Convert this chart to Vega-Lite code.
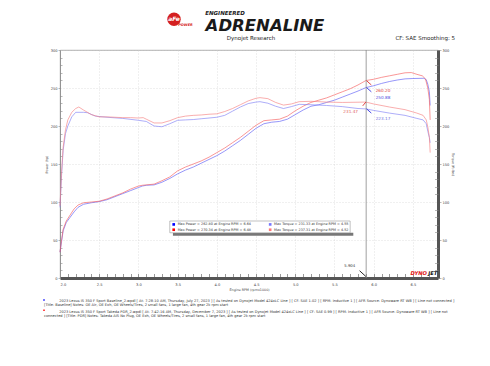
{
  "$schema": "https://vega.github.io/schema/vega-lite/v6.json",
  "width": 378,
  "height": 228,
  "autosize": {"type": "none"},
  "padding": {"left": 60, "top": 50, "right": 52, "bottom": 88},
  "background": "white",
  "config": {
    "view": {"stroke": "#999", "strokeWidth": 0.8},
    "axis": {"labelFont": "DejaVu Sans", "titleFont": "DejaVu Sans", "labelFontSize": 3.6, "titleFontSize": 3.3, "titleFontWeight": "normal", "labelColor": "#444", "titleColor": "#444"}
  },
  "datasets": {
    "one": [{}],
    "runs": [
      {"rpm": 2.00, "value": 34, "series": "Baseline Power"},
      {"rpm": 2.02, "value": 48, "series": "Baseline Power"},
      {"rpm": 2.04, "value": 62, "series": "Baseline Power"},
      {"rpm": 2.08, "value": 73, "series": "Baseline Power"},
      {"rpm": 2.13, "value": 80, "series": "Baseline Power"},
      {"rpm": 2.18, "value": 87, "series": "Baseline Power"},
      {"rpm": 2.23, "value": 93, "series": "Baseline Power"},
      {"rpm": 2.30, "value": 97, "series": "Baseline Power"},
      {"rpm": 2.40, "value": 99, "series": "Baseline Power"},
      {"rpm": 2.50, "value": 100.5, "series": "Baseline Power"},
      {"rpm": 2.60, "value": 103, "series": "Baseline Power"},
      {"rpm": 2.70, "value": 107, "series": "Baseline Power"},
      {"rpm": 2.80, "value": 111, "series": "Baseline Power"},
      {"rpm": 2.90, "value": 115, "series": "Baseline Power"},
      {"rpm": 3.00, "value": 119, "series": "Baseline Power"},
      {"rpm": 3.05, "value": 121, "series": "Baseline Power"},
      {"rpm": 3.10, "value": 122, "series": "Baseline Power"},
      {"rpm": 3.20, "value": 122.5, "series": "Baseline Power"},
      {"rpm": 3.30, "value": 126, "series": "Baseline Power"},
      {"rpm": 3.40, "value": 131, "series": "Baseline Power"},
      {"rpm": 3.50, "value": 137, "series": "Baseline Power"},
      {"rpm": 3.60, "value": 142, "series": "Baseline Power"},
      {"rpm": 3.70, "value": 146, "series": "Baseline Power"},
      {"rpm": 3.80, "value": 151, "series": "Baseline Power"},
      {"rpm": 3.90, "value": 156, "series": "Baseline Power"},
      {"rpm": 4.00, "value": 161, "series": "Baseline Power"},
      {"rpm": 4.10, "value": 167, "series": "Baseline Power"},
      {"rpm": 4.20, "value": 174, "series": "Baseline Power"},
      {"rpm": 4.30, "value": 181, "series": "Baseline Power"},
      {"rpm": 4.40, "value": 189, "series": "Baseline Power"},
      {"rpm": 4.50, "value": 197, "series": "Baseline Power"},
      {"rpm": 4.60, "value": 203, "series": "Baseline Power"},
      {"rpm": 4.70, "value": 205, "series": "Baseline Power"},
      {"rpm": 4.80, "value": 206, "series": "Baseline Power"},
      {"rpm": 4.90, "value": 209, "series": "Baseline Power"},
      {"rpm": 5.00, "value": 215, "series": "Baseline Power"},
      {"rpm": 5.10, "value": 221, "series": "Baseline Power"},
      {"rpm": 5.20, "value": 226, "series": "Baseline Power"},
      {"rpm": 5.30, "value": 228, "series": "Baseline Power"},
      {"rpm": 5.40, "value": 231, "series": "Baseline Power"},
      {"rpm": 5.50, "value": 234, "series": "Baseline Power"},
      {"rpm": 5.60, "value": 238, "series": "Baseline Power"},
      {"rpm": 5.70, "value": 242, "series": "Baseline Power"},
      {"rpm": 5.80, "value": 246, "series": "Baseline Power"},
      {"rpm": 5.90, "value": 250.5, "series": "Baseline Power"},
      {"rpm": 6.00, "value": 253, "series": "Baseline Power"},
      {"rpm": 6.10, "value": 256, "series": "Baseline Power"},
      {"rpm": 6.20, "value": 258.5, "series": "Baseline Power"},
      {"rpm": 6.30, "value": 260.5, "series": "Baseline Power"},
      {"rpm": 6.40, "value": 262, "series": "Baseline Power"},
      {"rpm": 6.50, "value": 262.5, "series": "Baseline Power"},
      {"rpm": 6.64, "value": 262.8, "series": "Baseline Power"},
      {"rpm": 6.67, "value": 261, "series": "Baseline Power"},
      {"rpm": 6.69, "value": 255, "series": "Baseline Power"},
      {"rpm": 6.71, "value": 245, "series": "Baseline Power"},
      {"rpm": 6.72, "value": 227, "series": "Baseline Power"},

      {"rpm": 2.00, "value": 34, "series": "PDR Power"},
      {"rpm": 2.02, "value": 50, "series": "PDR Power"},
      {"rpm": 2.04, "value": 64, "series": "PDR Power"},
      {"rpm": 2.08, "value": 75, "series": "PDR Power"},
      {"rpm": 2.13, "value": 83, "series": "PDR Power"},
      {"rpm": 2.18, "value": 91, "series": "PDR Power"},
      {"rpm": 2.23, "value": 96, "series": "PDR Power"},
      {"rpm": 2.30, "value": 99, "series": "PDR Power"},
      {"rpm": 2.40, "value": 100, "series": "PDR Power"},
      {"rpm": 2.50, "value": 101, "series": "PDR Power"},
      {"rpm": 2.60, "value": 104, "series": "PDR Power"},
      {"rpm": 2.70, "value": 108, "series": "PDR Power"},
      {"rpm": 2.80, "value": 112, "series": "PDR Power"},
      {"rpm": 2.90, "value": 117, "series": "PDR Power"},
      {"rpm": 3.00, "value": 121, "series": "PDR Power"},
      {"rpm": 3.05, "value": 122, "series": "PDR Power"},
      {"rpm": 3.10, "value": 122.5, "series": "PDR Power"},
      {"rpm": 3.20, "value": 123.5, "series": "PDR Power"},
      {"rpm": 3.30, "value": 128, "series": "PDR Power"},
      {"rpm": 3.40, "value": 133, "series": "PDR Power"},
      {"rpm": 3.50, "value": 141, "series": "PDR Power"},
      {"rpm": 3.60, "value": 146, "series": "PDR Power"},
      {"rpm": 3.70, "value": 150, "series": "PDR Power"},
      {"rpm": 3.80, "value": 154, "series": "PDR Power"},
      {"rpm": 3.90, "value": 159, "series": "PDR Power"},
      {"rpm": 4.00, "value": 165, "series": "PDR Power"},
      {"rpm": 4.10, "value": 171, "series": "PDR Power"},
      {"rpm": 4.20, "value": 178, "series": "PDR Power"},
      {"rpm": 4.30, "value": 185, "series": "PDR Power"},
      {"rpm": 4.40, "value": 193, "series": "PDR Power"},
      {"rpm": 4.50, "value": 201, "series": "PDR Power"},
      {"rpm": 4.60, "value": 207, "series": "PDR Power"},
      {"rpm": 4.70, "value": 208, "series": "PDR Power"},
      {"rpm": 4.80, "value": 209, "series": "PDR Power"},
      {"rpm": 4.90, "value": 213, "series": "PDR Power"},
      {"rpm": 5.00, "value": 220, "series": "PDR Power"},
      {"rpm": 5.10, "value": 226, "series": "PDR Power"},
      {"rpm": 5.20, "value": 231, "series": "PDR Power"},
      {"rpm": 5.30, "value": 234, "series": "PDR Power"},
      {"rpm": 5.40, "value": 237, "series": "PDR Power"},
      {"rpm": 5.50, "value": 241, "series": "PDR Power"},
      {"rpm": 5.60, "value": 245, "series": "PDR Power"},
      {"rpm": 5.70, "value": 249, "series": "PDR Power"},
      {"rpm": 5.80, "value": 254, "series": "PDR Power"},
      {"rpm": 5.90, "value": 259.8, "series": "PDR Power"},
      {"rpm": 6.00, "value": 261.5, "series": "PDR Power"},
      {"rpm": 6.10, "value": 264, "series": "PDR Power"},
      {"rpm": 6.20, "value": 266, "series": "PDR Power"},
      {"rpm": 6.30, "value": 268, "series": "PDR Power"},
      {"rpm": 6.40, "value": 270, "series": "PDR Power"},
      {"rpm": 6.48, "value": 270.3, "series": "PDR Power"},
      {"rpm": 6.55, "value": 268, "series": "PDR Power"},
      {"rpm": 6.62, "value": 266, "series": "PDR Power"},
      {"rpm": 6.66, "value": 262, "series": "PDR Power"},
      {"rpm": 6.69, "value": 250, "series": "PDR Power"},
      {"rpm": 6.71, "value": 235, "series": "PDR Power"},
      {"rpm": 6.72, "value": 208, "series": "PDR Power"},

      {"rpm": 2.00, "value": 93, "series": "Baseline Torque"},
      {"rpm": 2.02, "value": 135, "series": "Baseline Torque"},
      {"rpm": 2.04, "value": 168, "series": "Baseline Torque"},
      {"rpm": 2.07, "value": 190, "series": "Baseline Torque"},
      {"rpm": 2.10, "value": 200, "series": "Baseline Torque"},
      {"rpm": 2.15, "value": 212, "series": "Baseline Torque"},
      {"rpm": 2.20, "value": 218, "series": "Baseline Torque"},
      {"rpm": 2.30, "value": 218, "series": "Baseline Torque"},
      {"rpm": 2.35, "value": 217.5, "series": "Baseline Torque"},
      {"rpm": 2.45, "value": 213, "series": "Baseline Torque"},
      {"rpm": 2.60, "value": 211.5, "series": "Baseline Torque"},
      {"rpm": 2.80, "value": 210, "series": "Baseline Torque"},
      {"rpm": 3.00, "value": 207.5, "series": "Baseline Torque"},
      {"rpm": 3.10, "value": 206, "series": "Baseline Torque"},
      {"rpm": 3.20, "value": 200, "series": "Baseline Torque"},
      {"rpm": 3.30, "value": 199, "series": "Baseline Torque"},
      {"rpm": 3.40, "value": 203, "series": "Baseline Torque"},
      {"rpm": 3.50, "value": 207.5, "series": "Baseline Torque"},
      {"rpm": 3.60, "value": 208, "series": "Baseline Torque"},
      {"rpm": 3.70, "value": 208.5, "series": "Baseline Torque"},
      {"rpm": 3.80, "value": 209.5, "series": "Baseline Torque"},
      {"rpm": 3.90, "value": 210.5, "series": "Baseline Torque"},
      {"rpm": 4.00, "value": 211.5, "series": "Baseline Torque"},
      {"rpm": 4.10, "value": 214, "series": "Baseline Torque"},
      {"rpm": 4.20, "value": 219.5, "series": "Baseline Torque"},
      {"rpm": 4.30, "value": 225, "series": "Baseline Torque"},
      {"rpm": 4.40, "value": 229.5, "series": "Baseline Torque"},
      {"rpm": 4.50, "value": 231.5, "series": "Baseline Torque"},
      {"rpm": 4.55, "value": 232, "series": "Baseline Torque"},
      {"rpm": 4.65, "value": 230, "series": "Baseline Torque"},
      {"rpm": 4.75, "value": 226, "series": "Baseline Torque"},
      {"rpm": 4.85, "value": 223, "series": "Baseline Torque"},
      {"rpm": 4.95, "value": 225.5, "series": "Baseline Torque"},
      {"rpm": 5.05, "value": 228.5, "series": "Baseline Torque"},
      {"rpm": 5.20, "value": 228, "series": "Baseline Torque"},
      {"rpm": 5.40, "value": 227, "series": "Baseline Torque"},
      {"rpm": 5.60, "value": 225.5, "series": "Baseline Torque"},
      {"rpm": 5.80, "value": 223, "series": "Baseline Torque"},
      {"rpm": 5.90, "value": 222.5, "series": "Baseline Torque"},
      {"rpm": 6.00, "value": 220.5, "series": "Baseline Torque"},
      {"rpm": 6.20, "value": 217, "series": "Baseline Torque"},
      {"rpm": 6.40, "value": 214, "series": "Baseline Torque"},
      {"rpm": 6.55, "value": 210, "series": "Baseline Torque"},
      {"rpm": 6.63, "value": 208, "series": "Baseline Torque"},
      {"rpm": 6.67, "value": 203, "series": "Baseline Torque"},
      {"rpm": 6.69, "value": 193, "series": "Baseline Torque"},
      {"rpm": 6.71, "value": 185, "series": "Baseline Torque"},
      {"rpm": 6.72, "value": 178, "series": "Baseline Torque"},

      {"rpm": 2.00, "value": 95, "series": "PDR Torque"},
      {"rpm": 2.02, "value": 140, "series": "PDR Torque"},
      {"rpm": 2.04, "value": 172, "series": "PDR Torque"},
      {"rpm": 2.07, "value": 195, "series": "PDR Torque"},
      {"rpm": 2.10, "value": 208, "series": "PDR Torque"},
      {"rpm": 2.15, "value": 218, "series": "PDR Torque"},
      {"rpm": 2.20, "value": 223, "series": "PDR Torque"},
      {"rpm": 2.24, "value": 225, "series": "PDR Torque"},
      {"rpm": 2.30, "value": 221, "series": "PDR Torque"},
      {"rpm": 2.40, "value": 215, "series": "PDR Torque"},
      {"rpm": 2.50, "value": 212, "series": "PDR Torque"},
      {"rpm": 2.60, "value": 212, "series": "PDR Torque"},
      {"rpm": 2.70, "value": 211.5, "series": "PDR Torque"},
      {"rpm": 2.80, "value": 211, "series": "PDR Torque"},
      {"rpm": 2.90, "value": 211, "series": "PDR Torque"},
      {"rpm": 3.00, "value": 210.5, "series": "PDR Torque"},
      {"rpm": 3.06, "value": 211, "series": "PDR Torque"},
      {"rpm": 3.10, "value": 209, "series": "PDR Torque"},
      {"rpm": 3.20, "value": 204, "series": "PDR Torque"},
      {"rpm": 3.30, "value": 204, "series": "PDR Torque"},
      {"rpm": 3.40, "value": 207, "series": "PDR Torque"},
      {"rpm": 3.50, "value": 211, "series": "PDR Torque"},
      {"rpm": 3.60, "value": 213, "series": "PDR Torque"},
      {"rpm": 3.70, "value": 214, "series": "PDR Torque"},
      {"rpm": 3.80, "value": 214.5, "series": "PDR Torque"},
      {"rpm": 3.90, "value": 215.5, "series": "PDR Torque"},
      {"rpm": 4.00, "value": 216, "series": "PDR Torque"},
      {"rpm": 4.10, "value": 219, "series": "PDR Torque"},
      {"rpm": 4.20, "value": 223, "series": "PDR Torque"},
      {"rpm": 4.30, "value": 228, "series": "PDR Torque"},
      {"rpm": 4.40, "value": 233, "series": "PDR Torque"},
      {"rpm": 4.50, "value": 236.5, "series": "PDR Torque"},
      {"rpm": 4.55, "value": 237.3, "series": "PDR Torque"},
      {"rpm": 4.65, "value": 236, "series": "PDR Torque"},
      {"rpm": 4.75, "value": 231, "series": "PDR Torque"},
      {"rpm": 4.85, "value": 227.5, "series": "PDR Torque"},
      {"rpm": 4.95, "value": 229, "series": "PDR Torque"},
      {"rpm": 5.05, "value": 232, "series": "PDR Torque"},
      {"rpm": 5.20, "value": 232.5, "series": "PDR Torque"},
      {"rpm": 5.40, "value": 231.5, "series": "PDR Torque"},
      {"rpm": 5.60, "value": 231, "series": "PDR Torque"},
      {"rpm": 5.80, "value": 231.3, "series": "PDR Torque"},
      {"rpm": 5.90, "value": 231.5, "series": "PDR Torque"},
      {"rpm": 6.00, "value": 229, "series": "PDR Torque"},
      {"rpm": 6.20, "value": 225, "series": "PDR Torque"},
      {"rpm": 6.40, "value": 221.5, "series": "PDR Torque"},
      {"rpm": 6.55, "value": 217, "series": "PDR Torque"},
      {"rpm": 6.63, "value": 214, "series": "PDR Torque"},
      {"rpm": 6.67, "value": 208, "series": "PDR Torque"},
      {"rpm": 6.69, "value": 199, "series": "PDR Torque"},
      {"rpm": 6.71, "value": 185, "series": "PDR Torque"},
      {"rpm": 6.72, "value": 165, "series": "PDR Torque"}
    ]
  },
  "resolve": {"axis": {"x": "independent", "y": "independent"}},
  "layer": [
    {
      "data": {"name": "runs"},
      "mark": {"type": "line", "strokeWidth": 0.8, "opacity": 0.8},
      "encoding": {
        "x": {"field": "rpm", "type": "quantitative", "scale": {"domain": [2, 6.82], "nice": false, "zero": false},
          "axis": {"orient": "bottom", "values": [2, 2.5, 3, 3.5, 4, 4.5, 5, 5.5, 6, 6.5], "format": ".1f", "title": "Engine RPM (rpmx1000)", "grid": true, "gridColor": "#ccc", "gridDash": [1, 2], "gridWidth": 0.6, "domainColor": "#555", "domainWidth": 3, "tickSize": 0, "labelPadding": 4, "titlePadding": 2}},
        "y": {"field": "value", "type": "quantitative", "scale": {"domain": [0, 300], "nice": false, "zero": true},
          "axis": {"orient": "left", "values": [0, 50, 100, 150, 200, 250, 300], "title": "Power (hp)", "grid": true, "gridColor": "#ccc", "gridDash": [1, 2], "gridWidth": 0.6, "domainColor": "#888", "domainWidth": 0.8, "tickColor": "#888", "tickSize": 2, "tickWidth": 0.6, "labelPadding": 1, "titlePadding": 2}},
        "color": {"field": "series", "type": "nominal", "legend": null,
          "scale": {"domain": ["Baseline Power", "PDR Power", "Baseline Torque", "PDR Torque"], "range": ["#5c5cf5", "#f55c5c", "#8080f5", "#f58080"]}}
      }
    },
    {
      "data": {"name": "runs"},
      "mark": {"type": "line", "opacity": 0},
      "encoding": {
        "x": {"field": "rpm", "type": "quantitative", "scale": {"domain": [2, 6.82], "nice": false, "zero": false},
          "axis": {"orient": "bottom", "values": [2.1, 2.2, 2.3, 2.4, 2.6, 2.7, 2.8, 2.9, 3.1, 3.2, 3.3, 3.4, 3.6, 3.7, 3.8, 3.9, 4.1, 4.2, 4.3, 4.4, 4.6, 4.7, 4.8, 4.9, 5.1, 5.2, 5.3, 5.4, 5.6, 5.7, 5.8, 5.9, 6.1, 6.2, 6.3, 6.4, 6.6, 6.7, 2.5, 3, 3.5, 4, 4.5, 5, 5.5, 6, 6.5], "labels": false, "title": null, "grid": false, "domain": false, "tickSize": -4.5, "tickColor": "#555", "tickWidth": 0.6}},
        "y": {"field": "value", "type": "quantitative", "scale": {"domain": [0, 300], "nice": false, "zero": true},
          "axis": {"orient": "left", "values": [10, 20, 30, 40, 60, 70, 80, 90, 110, 120, 130, 140, 160, 170, 180, 190, 210, 220, 230, 240, 260, 270, 280, 290], "labels": false, "title": null, "grid": false, "domain": false, "tickSize": -2, "tickColor": "#888", "tickWidth": 0.6}}
      }
    },
    {
      "data": {"name": "runs"},
      "mark": {"type": "line", "opacity": 0},
      "encoding": {
        "x": {"field": "rpm", "type": "quantitative", "scale": {"domain": [2, 6.82], "nice": false, "zero": false}, "axis": null},
        "y": {"field": "value", "type": "quantitative", "scale": {"domain": [0, 300], "nice": false, "zero": true},
          "axis": {"orient": "right", "values": [0, 50, 100, 150, 200, 250, 300], "title": "Torque (ft-lbs)", "titleAngle": 90, "grid": false, "domainColor": "#555", "domainWidth": 3, "tickColor": "#888", "tickSize": 3, "tickWidth": 0.6, "labelPadding": 1, "titlePadding": 2}}
      }
    },
    {
      "data": {"name": "runs"},
      "mark": {"type": "line", "opacity": 0},
      "encoding": {
        "x": {"field": "rpm", "type": "quantitative", "scale": {"domain": [2, 6.82], "nice": false, "zero": false}, "axis": null},
        "y": {"field": "value", "type": "quantitative", "scale": {"domain": [0, 300], "nice": false, "zero": true},
          "axis": {"orient": "right", "values": [10, 20, 30, 40, 60, 70, 80, 90, 110, 120, 130, 140, 160, 170, 180, 190, 210, 220, 230, 240, 260, 270, 280, 290], "labels": false, "title": null, "grid": false, "domain": false, "tickSize": -3.5, "tickColor": "#888", "tickWidth": 0.6}}
      }
    },
    {
      "data": {"name": "one"},
      "mark": {"type": "rule", "color": "#888", "strokeWidth": 0.8},
      "encoding": {
        "x": {"datum": 5.904, "type": "quantitative", "axis": null},
        "y": {"datum": 0, "type": "quantitative", "axis": null},
        "y2": {"datum": 300}
      }
    },
    {
      "data": {"name": "one"},
      "mark": {"type": "rule", "color": "#111", "strokeWidth": 0.9},
      "encoding": {
        "x": {"datum": 5.82, "type": "quantitative", "axis": null}, "x2": {"datum": 5.9},
        "y": {"datum": 9.6, "type": "quantitative", "axis": null}, "y2": {"datum": 2}
      }
    },
    {
      "data": {"name": "one"},
      "mark": {"type": "text", "font": "DejaVu Sans", "fontSize": 3.8, "color": "#333", "align": "center", "baseline": "middle"},
      "encoding": {
        "x": {"datum": 5.694, "type": "quantitative", "axis": null},
        "y": {"datum": 16.2, "type": "quantitative", "axis": null},
        "text": {"value": "5.904"}
      }
    },
    {
      "data": {"name": "one"},
      "mark": {"type": "rule", "color": "#e03030", "strokeWidth": 0.9},
      "encoding": {
        "x": {"datum": 5.91, "type": "quantitative", "axis": null}, "x2": {"datum": 5.97},
        "y": {"datum": 259.5, "type": "quantitative", "axis": null}, "y2": {"datum": 254}
      }
    },
    {
      "data": {"name": "one"},
      "mark": {"type": "rule", "color": "#3030e0", "strokeWidth": 0.9},
      "encoding": {
        "x": {"datum": 5.91, "type": "quantitative", "axis": null}, "x2": {"datum": 5.97},
        "y": {"datum": 250.5, "type": "quantitative", "axis": null}, "y2": {"datum": 245}
      }
    },
    {
      "data": {"name": "one"},
      "mark": {"type": "rule", "color": "#e03030", "strokeWidth": 0.9},
      "encoding": {
        "x": {"datum": 5.9, "type": "quantitative", "axis": null}, "x2": {"datum": 5.86},
        "y": {"datum": 231.5, "type": "quantitative", "axis": null}, "y2": {"datum": 226.5}
      }
    },
    {
      "data": {"name": "one"},
      "mark": {"type": "rule", "color": "#3030e0", "strokeWidth": 0.9},
      "encoding": {
        "x": {"datum": 5.91, "type": "quantitative", "axis": null}, "x2": {"datum": 5.97},
        "y": {"datum": 222.5, "type": "quantitative", "axis": null}, "y2": {"datum": 217}
      }
    },
    {
      "data": {"name": "one"},
      "mark": {"type": "text", "font": "DejaVu Sans", "fontSize": 4.2, "color": "#e04040", "align": "left", "baseline": "middle"},
      "encoding": {"x": {"datum": 6.025, "type": "quantitative", "axis": null}, "y": {"datum": 246, "type": "quantitative", "axis": null}, "text": {"value": "260.20"}}
    },
    {
      "data": {"name": "one"},
      "mark": {"type": "text", "font": "DejaVu Sans", "fontSize": 4.2, "color": "#5050e0", "align": "left", "baseline": "middle"},
      "encoding": {"x": {"datum": 6.025, "type": "quantitative", "axis": null}, "y": {"datum": 236.8, "type": "quantitative", "axis": null}, "text": {"value": "250.88"}}
    },
    {
      "data": {"name": "one"},
      "mark": {"type": "text", "font": "DejaVu Sans", "fontSize": 4.2, "color": "#e06060", "align": "right", "baseline": "middle"},
      "encoding": {"x": {"datum": 5.8, "type": "quantitative", "axis": null}, "y": {"datum": 218, "type": "quantitative", "axis": null}, "text": {"value": "231.47"}}
    },
    {
      "data": {"name": "one"},
      "mark": {"type": "text", "font": "DejaVu Sans", "fontSize": 4.2, "color": "#7070e0", "align": "left", "baseline": "middle"},
      "encoding": {"x": {"datum": 6.025, "type": "quantitative", "axis": null}, "y": {"datum": 209, "type": "quantitative", "axis": null}, "text": {"value": "223.17"}}
    },
    {
      "data": {"name": "one"},
      "mark": {"type": "rect", "color": "#777"},
      "encoding": {
        "x": {"datum": 3.44, "type": "quantitative", "axis": null}, "x2": {"datum": 5.74},
        "y": {"datum": 59.5, "type": "quantitative", "axis": null}, "y2": {"datum": 55.5}
      }
    },
    {
      "data": {"name": "one"},
      "mark": {"type": "rect", "fill": "white", "stroke": "#999", "strokeWidth": 0.6},
      "encoding": {
        "x": {"datum": 3.40, "type": "quantitative", "axis": null}, "x2": {"datum": 5.70},
        "y": {"datum": 75, "type": "quantitative", "axis": null}, "y2": {"datum": 59.5}
      }
    },
    {
      "data": {"name": "one"},
      "mark": {"type": "square", "filled": true, "size": 7, "color": "#0000ff", "opacity": 1},
      "encoding": {"x": {"datum": 3.45, "type": "quantitative", "axis": null}, "y": {"datum": 70.5, "type": "quantitative", "axis": null}}
    },
    {
      "data": {"name": "one"},
      "mark": {"type": "square", "filled": true, "size": 7, "color": "#ff0000", "opacity": 1},
      "encoding": {"x": {"datum": 3.45, "type": "quantitative", "axis": null}, "y": {"datum": 63.5, "type": "quantitative", "axis": null}}
    },
    {
      "data": {"name": "one"},
      "mark": {"type": "square", "filled": true, "size": 7, "color": "#7878ff", "opacity": 1},
      "encoding": {"x": {"datum": 4.68, "type": "quantitative", "axis": null}, "y": {"datum": 70.5, "type": "quantitative", "axis": null}}
    },
    {
      "data": {"name": "one"},
      "mark": {"type": "square", "filled": true, "size": 7, "color": "#ff7878", "opacity": 1},
      "encoding": {"x": {"datum": 4.68, "type": "quantitative", "axis": null}, "y": {"datum": 63.5, "type": "quantitative", "axis": null}}
    },
    {
      "data": {"name": "one"},
      "mark": {"type": "text", "font": "DejaVu Sans", "fontSize": 3.4, "color": "#333", "align": "left", "baseline": "middle"},
      "encoding": {"x": {"datum": 3.50, "type": "quantitative", "axis": null}, "y": {"datum": 70.5, "type": "quantitative", "axis": null}, "text": {"value": "Max Power = 262.80 at Engine RPM = 6.64"}}
    },
    {
      "data": {"name": "one"},
      "mark": {"type": "text", "font": "DejaVu Sans", "fontSize": 3.4, "color": "#333", "align": "left", "baseline": "middle"},
      "encoding": {"x": {"datum": 3.50, "type": "quantitative", "axis": null}, "y": {"datum": 63.5, "type": "quantitative", "axis": null}, "text": {"value": "Max Power = 270.34 at Engine RPM = 6.48"}}
    },
    {
      "data": {"name": "one"},
      "mark": {"type": "text", "font": "DejaVu Sans", "fontSize": 3.4, "color": "#333", "align": "left", "baseline": "middle"},
      "encoding": {"x": {"datum": 4.73, "type": "quantitative", "axis": null}, "y": {"datum": 70.5, "type": "quantitative", "axis": null}, "text": {"value": "Max Torque = 231.33 at Engine RPM = 4.55"}}
    },
    {
      "data": {"name": "one"},
      "mark": {"type": "text", "font": "DejaVu Sans", "fontSize": 3.4, "color": "#333", "align": "left", "baseline": "middle"},
      "encoding": {"x": {"datum": 4.73, "type": "quantitative", "axis": null}, "y": {"datum": 63.5, "type": "quantitative", "axis": null}, "text": {"value": "Max Torque = 237.31 at Engine RPM = 4.52"}}
    },
    {
      "data": {"name": "one"},
      "mark": {"type": "text", "font": "DejaVu Sans", "fontSize": 5.2, "fontWeight": "bold", "fontStyle": "italic", "color": "#e01010", "align": "left", "baseline": "middle"},
      "encoding": {"x": {"datum": 6.47, "type": "quantitative", "axis": null}, "y": {"datum": 6.6, "type": "quantitative", "axis": null}, "text": {"value": "DYNO"}}
    },
    {
      "data": {"name": "one"},
      "mark": {"type": "text", "font": "DejaVu Sans", "fontSize": 5.2, "fontWeight": "bold", "fontStyle": "italic", "color": "#111", "align": "left", "baseline": "middle"},
      "encoding": {"x": {"datum": 6.695, "type": "quantitative", "axis": null}, "y": {"datum": 6.6, "type": "quantitative", "axis": null}, "text": {"value": "JET"}}
    },
    {
      "data": {"name": "one"},
      "mark": {"type": "text", "font": "DejaVu Sans", "fontSize": 5.5, "color": "#222", "align": "right", "baseline": "middle"},
      "encoding": {"x": {"datum": 7.037, "type": "quantitative", "axis": null}, "y": {"datum": 315.8, "type": "quantitative", "axis": null}, "text": {"value": "CF: SAE Smoothing: 5"}}
    },
    {
      "data": {"name": "one"},
      "mark": {"type": "text", "font": "DejaVu Sans", "fontSize": 5.5, "color": "#222", "align": "center", "baseline": "middle"},
      "encoding": {"x": {"datum": 4.436, "type": "quantitative", "axis": null}, "y": {"datum": 315.5, "type": "quantitative", "axis": null}, "text": {"value": "Dynojet Research"}}
    },
    {
      "data": {"name": "one"},
      "mark": {"type": "text", "font": "DejaVu Sans", "fontSize": 16.5, "fontWeight": "bold", "fontStyle": "italic", "color": "#1a1a1a", "align": "center", "baseline": "middle"},
      "encoding": {"x": {"datum": 4.614, "type": "quantitative", "axis": null}, "y": {"datum": 331.3, "type": "quantitative", "axis": null}, "text": {"value": "ADRENALINE"}}
    },
    {
      "data": {"name": "one"},
      "mark": {"type": "text", "font": "DejaVu Sans", "fontSize": 5.5, "fontWeight": "bold", "fontStyle": "italic", "color": "#222", "align": "center", "baseline": "middle"},
      "encoding": {"x": {"datum": 4.104, "type": "quantitative", "axis": null}, "y": {"datum": 349, "type": "quantitative", "axis": null}, "text": {"value": "ENGINEERED"}}
    },
    {
      "data": {"name": "one"},
      "mark": {"type": "circle", "size": 180, "color": "#d42020", "opacity": 1},
      "encoding": {"x": {"datum": 3.454, "type": "quantitative", "axis": null}, "y": {"datum": 340.5, "type": "quantitative", "axis": null}}
    },
    {
      "data": {"name": "one"},
      "mark": {"type": "text", "font": "DejaVu Sans", "fontSize": 6, "fontWeight": "bold", "fontStyle": "italic", "color": "white", "align": "center", "baseline": "middle"},
      "encoding": {"x": {"datum": 3.454, "type": "quantitative", "axis": null}, "y": {"datum": 341, "type": "quantitative", "axis": null}, "text": {"value": "aFe"}}
    },
    {
      "data": {"name": "one"},
      "mark": {"type": "text", "font": "DejaVu Sans", "fontSize": 3.5, "fontWeight": "bold", "fontStyle": "italic", "color": "#d42020", "align": "center", "baseline": "middle"},
      "encoding": {"x": {"datum": 3.6, "type": "quantitative", "axis": null}, "y": {"datum": 333, "type": "quantitative", "axis": null}, "text": {"value": "POWER"}}
    },
    {
      "data": {"name": "one"},
      "mark": {"type": "square", "filled": true, "size": 2, "color": "#0000ff", "opacity": 1},
      "encoding": {"x": {"datum": 1.796, "type": "quantitative", "axis": null}, "y": {"datum": -29, "type": "quantitative", "axis": null}}
    },
    {
      "data": {"name": "one"},
      "mark": {"type": "square", "filled": true, "size": 2, "color": "#ff0000", "opacity": 1},
      "encoding": {"x": {"datum": 1.796, "type": "quantitative", "axis": null}, "y": {"datum": -42.5, "type": "quantitative", "axis": null}}
    },
    {
      "data": {"name": "one"},
      "mark": {"type": "text", "font": "DejaVu Sans", "fontSize": 3.55, "color": "#333", "align": "left", "baseline": "middle"},
      "encoding": {"x": {"datum": 1.99, "type": "quantitative", "axis": null}, "y": {"datum": -29.9, "type": "quantitative", "axis": null},
        "text": {"value": "2023 Lexus IS 350 F Sport Baseline_2.wpdl [ At: 7:28:10 AM, Thursday, July 27, 2023 ] [ As tested on Dynojet Model 424xLC Line ] [ CF: SAE 1.02 ] [ RPM: Inductive 1 ] [ AFR Source: Dynoware RT WB ] [ Line not connected ]"}}
    },
    {
      "data": {"name": "one"},
      "mark": {"type": "text", "font": "DejaVu Sans", "fontSize": 3.55, "color": "#333", "align": "left", "baseline": "middle"},
      "encoding": {"x": {"datum": 1.796, "type": "quantitative", "axis": null}, "y": {"datum": -35.5, "type": "quantitative", "axis": null},
        "text": {"value": "[Title: Baseline]  Notes: OE Air, OE Exh, OE Wheels/Tires, 2 small fans, 1 large fan, 4th gear 2k rpm start"}}
    },
    {
      "data": {"name": "one"},
      "mark": {"type": "text", "font": "DejaVu Sans", "fontSize": 3.55, "color": "#333", "align": "left", "baseline": "middle"},
      "encoding": {"x": {"datum": 1.99, "type": "quantitative", "axis": null}, "y": {"datum": -44.3, "type": "quantitative", "axis": null},
        "text": {"value": "2023 Lexus IS 350 F Sport Takeda PDR_2.wpdl [ At: 7:42:16 AM, Thursday, December 7, 2023 ] [ As tested on Dynojet Model 424xLC Line ] [ CF: SAE 0.99 ] [ RPM: Inductive 1 ] [ AFR Source: Dynoware RT WB ] [ Line not"}}
    },
    {
      "data": {"name": "one"},
      "mark": {"type": "text", "font": "DejaVu Sans", "fontSize": 3.55, "color": "#333", "align": "left", "baseline": "middle"},
      "encoding": {"x": {"datum": 1.796, "type": "quantitative", "axis": null}, "y": {"datum": -50, "type": "quantitative", "axis": null},
        "text": {"value": "connected ] [Title: PDR]  Notes: Takeda AIS No Plug, OE Exh, OE Wheels/Tires, 2 small fans, 1 large fan, 4th gear 2k rpm start"}}
    }
  ]
}
